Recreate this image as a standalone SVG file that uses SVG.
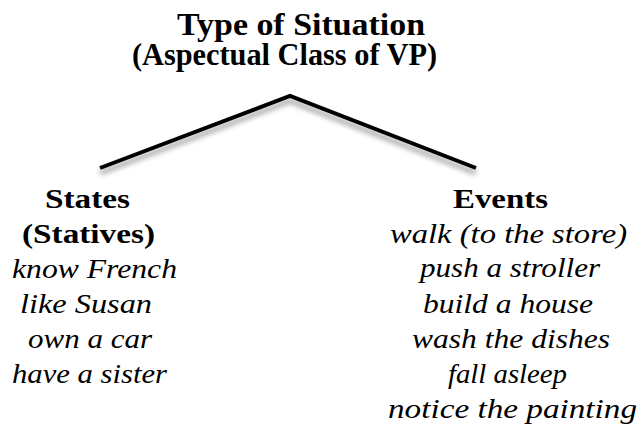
<svg xmlns="http://www.w3.org/2000/svg" width="641" height="430" viewBox="0 0 641 430">
  <style>
    text { font-family: "Liberation Serif", "Times New Roman", serif; fill: #000; }
    .title { font-weight: bold; font-size: 32px; }
    .head { font-weight: bold; font-size: 28px; }
    .item { font-style: italic; font-size: 28px; }
    .branch { fill: none; stroke: #000; stroke-width: 4; stroke-linejoin: miter; }
    .branch-shadow { fill: none; stroke: #8a8a8a; stroke-width: 5; opacity: 0.7; filter: url(#soft); }
  </style>
  <defs>
    <filter id="soft" x="-10%" y="-50%" width="120%" height="200%">
      <feGaussianBlur stdDeviation="2.5"/>
    </filter>
  </defs>
  <rect width="641" height="430" fill="#fff"/>

  <!-- top label -->
  <g id="root">
    <text class="title" x="177" y="35" textLength="248" lengthAdjust="spacingAndGlyphs">Type of Situation</text>
    <text class="title" x="132" y="65" textLength="305" lengthAdjust="spacingAndGlyphs">(Aspectual Class of VP)</text>
  </g>

  <!-- the two branches with a soft drop shadow -->
  <g id="connectors">
    <polyline class="branch-shadow" points="100,173 290,101 476,173"/>
    <polyline class="branch" points="100,168 290,96 476,168"/>
  </g>

  <g id="states">
    <text class="head" x="45" y="208" textLength="85" lengthAdjust="spacingAndGlyphs">States</text>
    <text class="head" x="22" y="243" textLength="133" lengthAdjust="spacingAndGlyphs">(Statives)</text>
    <text class="item" x="12" y="278" textLength="165" lengthAdjust="spacingAndGlyphs">know French</text>
    <text class="item" x="20" y="313" textLength="132" lengthAdjust="spacingAndGlyphs">like Susan</text>
    <text class="item" x="28" y="348" textLength="124" lengthAdjust="spacingAndGlyphs">own a car</text>
    <text class="item" x="12" y="383" textLength="155" lengthAdjust="spacingAndGlyphs">have a sister</text>
  </g>

  <g id="events">
    <text class="head" x="453" y="208" textLength="95" lengthAdjust="spacingAndGlyphs">Events</text>
    <text class="item" x="390" y="243" textLength="237" lengthAdjust="spacingAndGlyphs">walk (to the store)</text>
    <text class="item" x="420" y="277" textLength="180" lengthAdjust="spacingAndGlyphs">push a stroller</text>
    <text class="item" x="423" y="313" textLength="170" lengthAdjust="spacingAndGlyphs">build a house</text>
    <text class="item" x="412" y="348" textLength="198" lengthAdjust="spacingAndGlyphs">wash the dishes</text>
    <text class="item" x="448" y="383" textLength="119" lengthAdjust="spacingAndGlyphs">fall asleep</text>
    <text class="item" x="388" y="418" textLength="249" lengthAdjust="spacingAndGlyphs">notice the painting</text>
  </g>
</svg>
